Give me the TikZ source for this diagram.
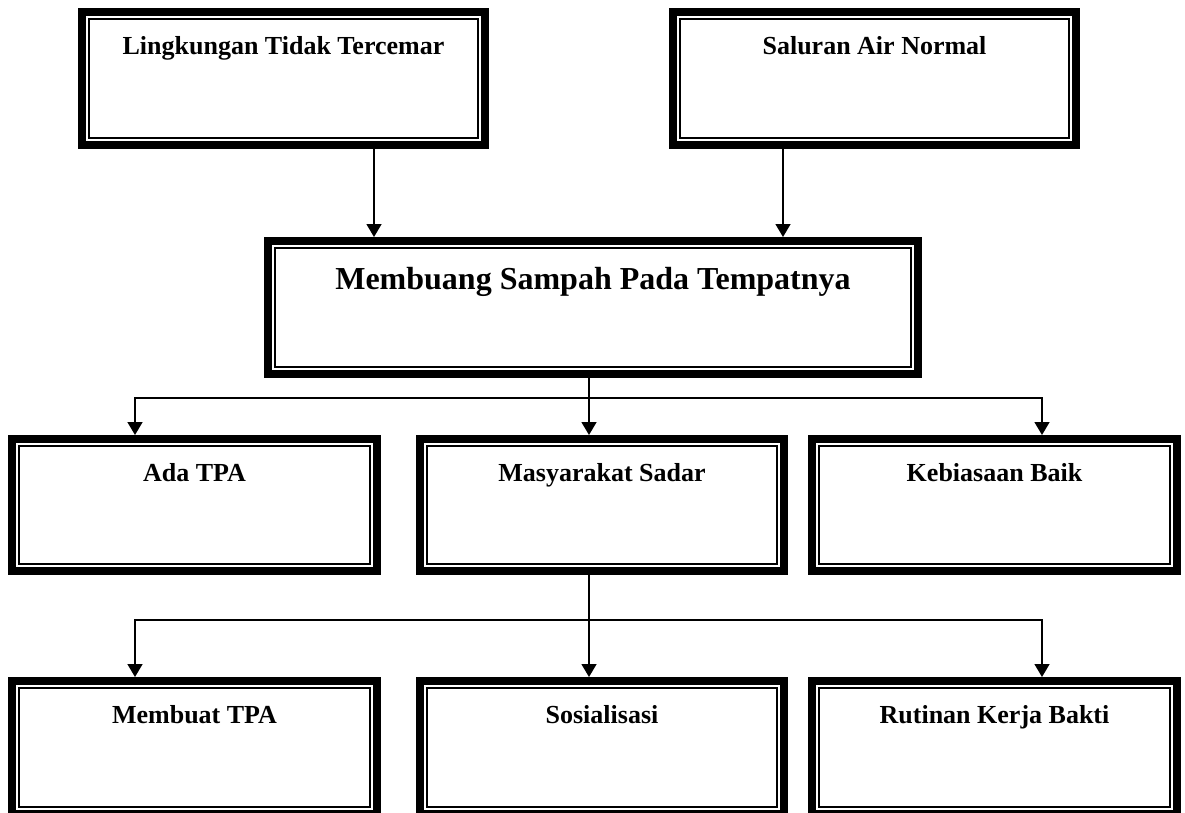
\documentclass[tikz,border=0pt]{standalone}
\usepackage{fontspec}
\setmainfont{Liberation Serif}
\usetikzlibrary{arrows.meta,calc}
\tikzset{
  dbox/.style={draw, line width=8pt, minimum width=#1, inner sep=0pt, outer sep=4pt,
    append after command={
      \pgfextra{\draw[line width=2pt] ($(\tikzlastnode.south west)+(11pt,11pt)$) rectangle ($(\tikzlastnode.north east)+(-11pt,-11pt)$);}
    }},
  boxtext/.style={font=\bfseries\fontsize{26}{30}\selectfont},
  bigtext/.style={font=\bfseries\fontsize{32}{38}\selectfont},
  conn/.style={line width=1.5pt},
  arr/.style={conn, -{Triangle[width=15pt,length=13pt]}}
}
\begin{document}
\begin{tikzpicture}[x=1pt,y=-1pt]
\useasboundingbox (0,0) rectangle (1185,812);
\clip (0,0) rectangle (1185,812);
% top row
\node[dbox=403pt, minimum height=133pt,
  label={[boxtext,anchor=base,label distance=-46pt]north:Lingkungan Tidak Tercemar}] (L1) at (283.5,78.5) {};
\node[dbox=403pt, minimum height=133pt,
  label={[boxtext,anchor=base,label distance=-46pt]north:Saluran Air Normal}] (S1) at (874.5,78.5) {};
% middle
\node[dbox=650pt, minimum height=133pt,
  label={[bigtext,anchor=base,label distance=-52pt]north:Membuang Sampah Pada Tempatnya}] (M) at (593,307.5) {};
% row 2
\node[dbox=365pt, minimum height=132pt,
  label={[boxtext,anchor=base,label distance=-46pt]north:Ada TPA}] (A) at (194.5,505) {};
\node[dbox=364pt, minimum height=132pt,
  label={[boxtext,anchor=base,label distance=-46pt]north:Masyarakat Sadar}] (MS) at (602,505) {};
\node[dbox=365pt, minimum height=132pt,
  label={[boxtext,anchor=base,label distance=-46pt]north:Kebiasaan Baik}] (K) at (994.5,505) {};
% row 3
\node[dbox=365pt, minimum height=133pt,
  label={[boxtext,anchor=base,label distance=-46pt]north:Membuat TPA}] (MT) at (194.5,747.5) {};
\node[dbox=364pt, minimum height=133pt,
  label={[boxtext,anchor=base,label distance=-46pt]north:Sosialisasi}] (SO) at (602,747.5) {};
\node[dbox=365pt, minimum height=133pt,
  label={[boxtext,anchor=base,label distance=-46pt]north:Rutinan Kerja Bakti}] (RK) at (994.5,747.5) {};
% guide coordinates
\coordinate (xl) at (374,0);
\coordinate (xs) at (783,0);
\coordinate (xm) at (589,0);
\coordinate (xa) at (135,0);
\coordinate (xk) at (1042,0);
\coordinate (bus1) at (589,398);
\coordinate (bus2) at (589,620);
% connectors
\draw[arr] (L1.south -| xl) -- (M.north -| xl);
\draw[arr] (S1.south -| xs) -- (M.north -| xs);
\draw[arr] (M.south -| xm) -- (MS.north -| xm);
\draw[arr] (bus1) -| (A.north -| xa);
\draw[arr] (bus1) -| (K.north -| xk);
\draw[arr] (MS.south -| xm) -- (SO.north -| xm);
\draw[arr] (bus2) -| (MT.north -| xa);
\draw[arr] (bus2) -| (RK.north -| xk);
\end{tikzpicture}
\end{document}
